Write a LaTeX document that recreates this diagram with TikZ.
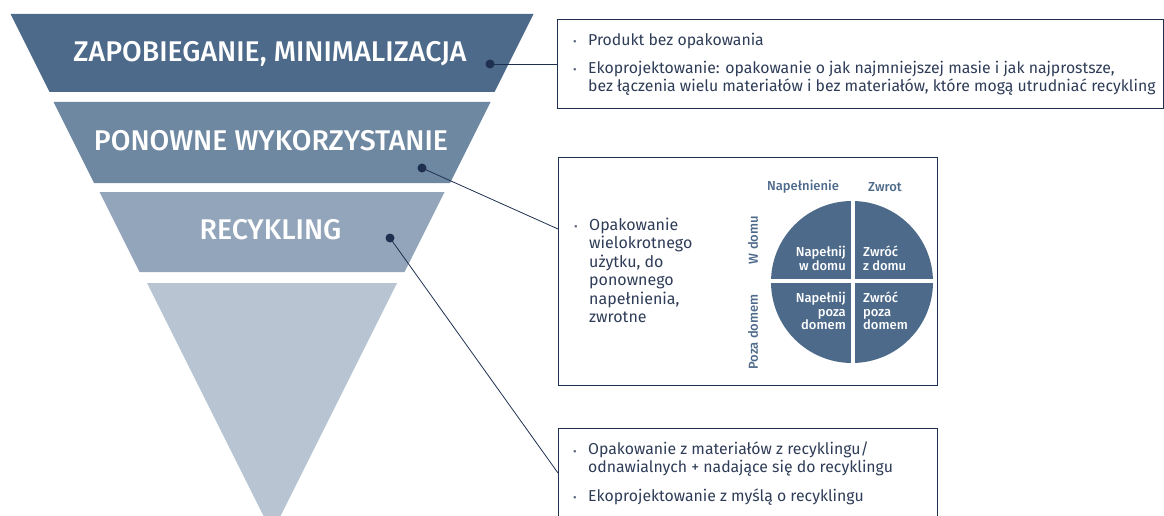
\documentclass[tikz,border=0pt]{standalone}
\usepackage{fontspec}
\setmainfont{Fira Sans}
\newfontfamily\firamed{Fira Sans Medium}
\definecolor{navy}{HTML}{1F2F4F}
\definecolor{txt}{HTML}{2E3C57}
\definecolor{tA}{HTML}{4D6A8A}
\definecolor{tB}{HTML}{6F88A2}
\definecolor{tC}{HTML}{93A5BA}
\definecolor{tD}{HTML}{B8C4D2}
\begin{document}
\begin{tikzpicture}[x=1pt,y=-1pt,
  title/.style={text=white,font=\fontsize{28.5}{32}\selectfont\firamed,inner sep=0pt,anchor=base},
  dot/.style={circle,fill=navy,inner sep=0pt,minimum size=9pt},
  infobox/.style={draw=navy,line width=0.9pt,inner sep=0pt},
  conn/.style={draw=navy,line width=0.8pt},
  btxt/.style={text=txt,font=\fontsize{15.8}{18}\selectfont,anchor=base west,inner sep=0pt,align=left},
  bul/.style={text=txt!80,font=\fontsize{11}{12}\selectfont,anchor=base west,inner sep=0pt},
  qtxt/.style={text=white,font=\fontsize{13}{13.5}\selectfont\firamed,inner sep=0pt},
  axlab/.style={text=tA,font=\fontsize{13}{14}\selectfont\firamed,inner sep=0pt}]
\clip (0,0) rectangle (1164,516);
% funnel
\fill[tA] (10.5,14) -- (533.5,14) -- (494.5,92) -- (49.5,92) -- cycle;
\fill[tB] (53.5,102) -- (490.5,102) -- (450,183) -- (94,183) -- cycle;
\fill[tC] (99.5,192) -- (444.5,192) -- (404.5,272) -- (139.5,272) -- cycle;
\fill[tD] (147,283) -- (397,283) -- (272,533) -- cycle;
\node[title] (t1) at (270,62) {ZAPOBIEGANIE, MINIMALIZACJA};
\node[title] (t2) at (271,150) {PONOWNE WYKORZYSTANIE};
\node[title] (t3) at (270.5,239) {RECYKLING};
% dots
\node[dot] (d1) at (490,64) {};
\node[dot] (d2) at (422,168) {};
\node[dot] (d3) at (390,238) {};
% boxes
\node[infobox,minimum width=606pt,minimum height=89pt] (b1) at (860,63.5) {};
\node[infobox,minimum width=379pt,minimum height=228pt] (b2) at (747.5,271) {};
\node[infobox,minimum width=379pt,minimum height=100pt] (b3) at (747.5,478) {};
\coordinate (e2) at (558,229);
\coordinate (e3) at (558,473);
\draw[conn] (d1.center) -- (d1.center -| b1.west);
\draw[conn] (d2.center) -- (e2);
\draw[conn] (d3.center) -- (e3);
% box 1 text
\node[bul] (bu1) at (573,46) {•};
\node[btxt] (x1) at (588,46) {Produkt bez opakowania};
\node[bul] (bu2) at (573,74) {•};
\node[btxt] (x2) at (588,92) {Ekoprojektowanie: opakowanie o jak najmniejszej masie i jak najprostsze,\\bez łączenia wielu materiałów i bez materiałów, które mogą utrudniać recykling};
% box 2 text
\node[bul] (bu3) at (574,230) {•};
\node[btxt,font=\fontsize{16}{18.5}\selectfont] (x3) at (589,322.5) {Opakowanie\\wielokrotnego\\użytku, do\\ponownego\\napełnienia,\\zwrotne};
% circle
\fill[tA] (852,282) circle[radius=81];
\draw[white,line width=4pt] (853,198) -- (853,366);
\draw[white,line width=4pt] (768,281) -- (936,281);
\node[axlab] (l1) at (803,187) {Napełnienie};
\node[axlab] (l2) at (885,187) {Zwrot};
\node[axlab,rotate=90] (l3) at (753,240) {W domu};
\node[axlab,rotate=90] (l4) at (753,332) {Poza domem};
\node[qtxt,align=right,anchor=base east] (q1) at (846,270) {Napełnij\\w domu};
\node[qtxt,align=left,anchor=base west] (q2) at (863,270) {Zwróć\\z domu};
\node[qtxt,align=right,anchor=base east] (q3) at (846,329.5) {Napełnij\\poza\\domem};
\node[qtxt,align=left,anchor=base west] (q4) at (863,329.5) {Zwróć\\poza\\domem};
% box 3 text
\node[bul] (bu4) at (573,455) {•};
\node[btxt] (x4) at (588,472) {Opakowanie z materiałów z recyklingu/\\odnawialnych + nadające się do recyklingu};
\node[bul] (bu5) at (573,501) {•};
\node[btxt] (x5) at (588,501) {Ekoprojektowanie z myślą o recyklingu};
\end{tikzpicture}
\end{document}
